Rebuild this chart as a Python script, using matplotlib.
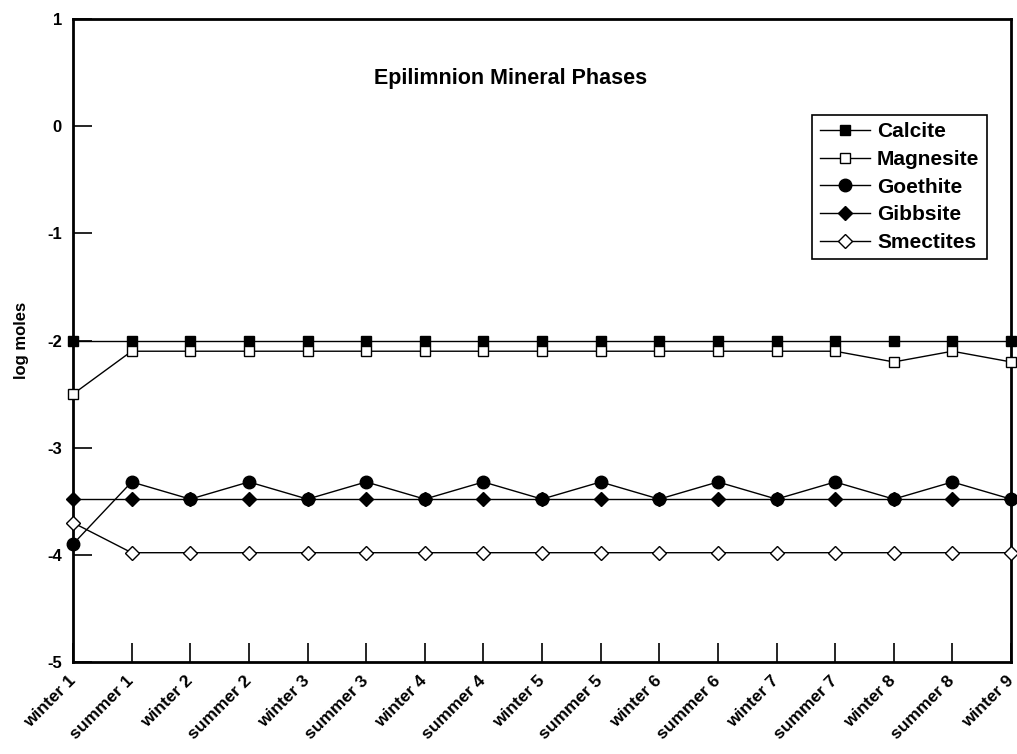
import matplotlib
matplotlib.use("Agg")
import matplotlib.pyplot as plt
import numpy as np

plt.rcParams['font.family'] = ['Liberation Sans', 'DejaVu Sans']
plt.rcParams['font.weight'] = 'bold'

seasons = ["winter 1", "summer 1", "winter 2", "summer 2", "winter 3", "summer 3",
           "winter 4", "summer 4", "winter 5", "summer 5", "winter 6", "summer 6",
           "winter 7", "summer 7", "winter 8", "summer 8", "winter 9"]

calcite = [-2.0] * 17
magnesite = [-2.5, -2.1, -2.1, -2.1, -2.1, -2.1, -2.1, -2.1, -2.1, -2.1, -2.1,
             -2.1, -2.1, -2.1, -2.2, -2.1, -2.2]
goethite = [-3.9, -3.32, -3.48, -3.32, -3.48, -3.32, -3.48, -3.32, -3.48, -3.32,
            -3.48, -3.32, -3.48, -3.32, -3.48, -3.32, -3.48]
gibbsite = [-3.48] * 17
smectites = [-3.7] + [-3.98] * 16

fig = plt.figure(figsize=(10.17, 7.54), dpi=100)
ax = fig.add_axes([0.0718, 0.122, 0.9223, 0.8528])

x = np.arange(len(seasons))
series = [
    ("Calcite", calcite, "s", "black", 7.5),
    ("Magnesite", magnesite, "s", "white", 7.5),
    ("Goethite", goethite, "o", "black", 9),
    ("Gibbsite", gibbsite, "D", "black", 7),
    ("Smectites", smectites, "D", "white", 7),
]
for name, vals, mk, fc, ms in series:
    ax.plot(x, vals, color="black", lw=1, marker=mk, markersize=ms,
            markerfacecolor=fc, markeredgecolor="black", markeredgewidth=1,
            label=name, clip_on=False, zorder=3)

ax.set_xlim(0, 16)
ax.set_ylim(-5, 1)
ax.set_xticks(x)
ax.set_xticklabels(seasons, rotation=45, ha="right", va="center",
                   rotation_mode="anchor", fontsize=12.5, fontweight="bold")
ax.set_yticks(range(-5, 2))
ax.set_yticklabels([str(v) for v in range(-5, 2)], fontsize=12, fontweight="bold")
ax.tick_params(direction="in", length=14, width=1.2, pad=8)
ax.tick_params(axis="x", pad=12)
for s in ax.spines.values():
    s.set_linewidth(2)

ax.set_ylabel("log moles", fontsize=12, fontweight="bold", labelpad=13)
ax.text(0.466, 0.908, "Epilimnion Mineral Phases", transform=ax.transAxes,
        ha="center", va="center", fontsize=15.5, fontweight="bold")

leg = ax.legend(loc="upper right", bbox_to_anchor=(0.974, 0.851),
                fancybox=False, edgecolor="black", framealpha=1,
                handlelength=2.4, handletextpad=0.35, borderpad=0.35,
                borderaxespad=0, labelspacing=0.42,
                prop={"weight": "bold", "size": 15})
leg.get_frame().set_linewidth(1.2)

fig.savefig("out.png", dpi=100)
